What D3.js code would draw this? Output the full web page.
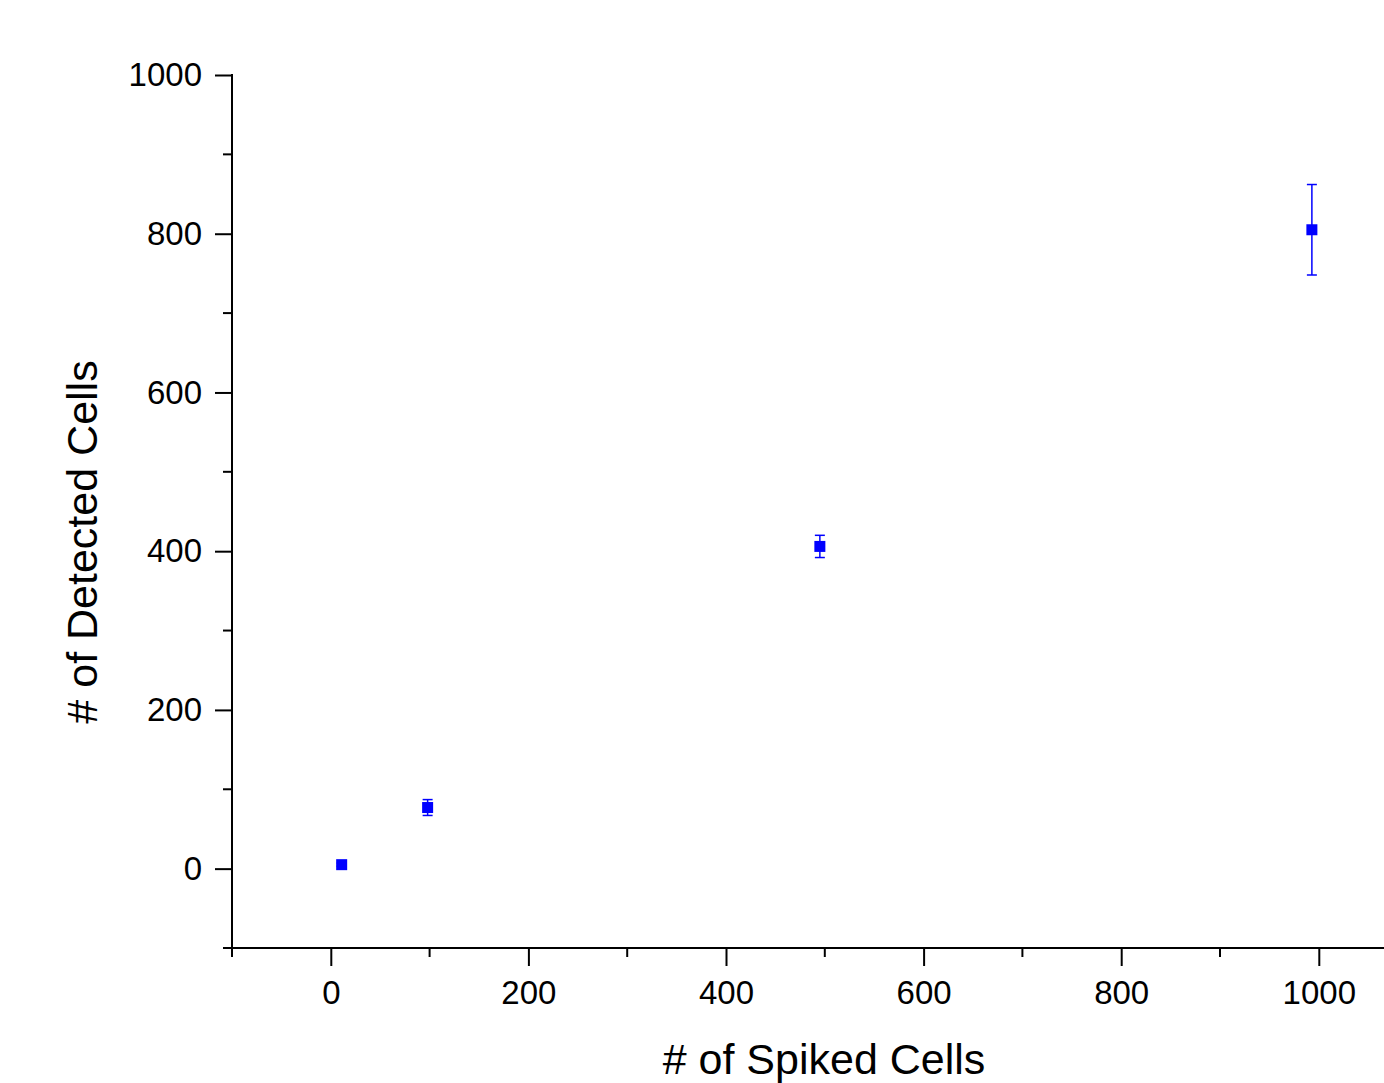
<!DOCTYPE html>
<html>
<head>
<meta charset="utf-8">
<script src="https://cdnjs.cloudflare.com/ajax/libs/d3/7.8.5/d3.min.js"></script>
<style>
  body { margin: 0; background: #fff; }
  svg text { font-family: "Liberation Sans", Arial, sans-serif; fill: #000; }
</style>
</head>
<body>
<div id="chart"></div>
<script>
// data
var spiked   = [11, 98, 495, 993];
var detected = [5, 77, 406, 805];
var errors   = [2, 10, 14, 57];

var xMajor = [0, 200, 400, 600, 800, 1000];
var xMinor = [-100, 100, 300, 500, 700, 900];
var yMajor = [0, 200, 400, 600, 800, 1000];
var yMinor = [-100, 100, 300, 500, 700, 900];

var W = 1384, H = 1083;

var svg = d3.select("#chart")
  .append("svg")
    .attr("width", W)
    .attr("height", H);

// scales
var x = d3.scaleLinear()
  .domain([-100, 1100])
  .range([232, 232 + 1200 * 0.988]);
var y = d3.scaleLinear()
  .domain([-100, 1000])
  .range([948, 75]);

// x axis line (runs off the right edge)
svg.append("line")
  .attr("x1", 231).attr("x2", W)
  .attr("y1", y(-100)).attr("y2", y(-100))
  .attr("stroke", "#000").attr("stroke-width", 2);

// y axis line
svg.append("line")
  .attr("x1", x(-100)).attr("x2", x(-100))
  .attr("y1", y(1000) - 1).attr("y2", y(-100) + 1)
  .attr("stroke", "#000").attr("stroke-width", 2);

// x axis ticks
var gx = svg.append("g")
  .attr("transform", "translate(0," + y(-100) + ")");
gx.call(d3.axisBottom(x).tickValues(xMajor).tickSize(18).tickPadding(15)
    .tickFormat(d3.format("d")));
gx.select(".domain").remove();
gx.selectAll(".tick line").attr("stroke-width", 2);
gx.selectAll(".tick text")
  .attr("font-size", 33)
  .attr("dy", "0.71em");
xMinor.forEach(function(v) {
  gx.append("line")
    .attr("x1", x(v)).attr("x2", x(v))
    .attr("y1", 0).attr("y2", 9)
    .attr("stroke", "#000").attr("stroke-width", 2);
});

// y axis ticks
var gy = svg.append("g")
  .attr("transform", "translate(" + x(-100) + ",0)");
gy.call(d3.axisLeft(y).tickValues(yMajor).tickSize(17).tickPadding(13)
    .tickFormat(d3.format("d")));
gy.select(".domain").remove();
gy.selectAll(".tick line").attr("stroke-width", 2);
gy.selectAll(".tick text")
  .attr("font-size", 33);
yMinor.forEach(function(v) {
  gy.append("line")
    .attr("x1", 0).attr("x2", -9)
    .attr("y1", y(v)).attr("y2", y(v))
    .attr("stroke", "#000").attr("stroke-width", 2);
});
svg.selectAll(".tick text").style("font-family", "'Liberation Sans', Arial, sans-serif");

// axis titles
svg.append("text")
  .attr("x", 824)
  .attr("y", 1074)
  .attr("text-anchor", "middle")
  .attr("font-size", 43)
  .text("# of Spiked Cells");

svg.append("text")
  .attr("transform", "translate(97,542) rotate(-90)")
  .attr("text-anchor", "middle")
  .attr("font-size", 43)
  .text("# of Detected Cells");

// error bars
var pts = spiked.map(function(d, i) {
  return {x: d, y: detected[i], e: errors[i]};
});
var blue = "#0000ff";
var eb = svg.append("g");
pts.forEach(function(d) {
  var cx = x(d.x);
  eb.append("line")
    .attr("x1", cx).attr("x2", cx)
    .attr("y1", y(d.y + d.e)).attr("y2", y(d.y - d.e))
    .attr("stroke", blue).attr("stroke-width", 1.5);
  [d.y + d.e, d.y - d.e].forEach(function(v) {
    eb.append("line")
      .attr("x1", cx - 5).attr("x2", cx + 5)
      .attr("y1", y(v)).attr("y2", y(v))
      .attr("stroke", blue).attr("stroke-width", 1.5);
  });
});

// square markers
svg.append("g")
  .selectAll("rect")
  .data(pts)
  .enter().append("rect")
    .attr("x", function(d) { return x(d.x) - 5.5; })
    .attr("y", function(d) { return y(d.y) - 5.5; })
    .attr("width", 11)
    .attr("height", 11)
    .attr("fill", blue);
</script>
</body>
</html>
